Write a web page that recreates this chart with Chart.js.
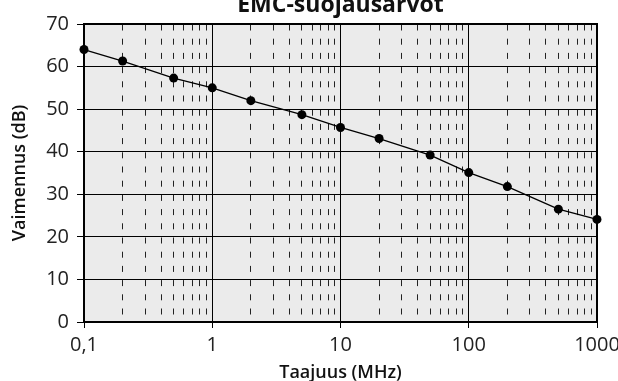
<!DOCTYPE html>
<html>
<head>
<meta charset="utf-8">
<script src="https://cdn.jsdelivr.net/npm/chart.js@4"></script>
<style>
  html, body { margin: 0; padding: 0; background: #fff; }
  #wrap { width: 618px; height: 381px; }
</style>
</head>
<body>
<div id="wrap"><canvas id="myChart" width="618" height="381"></canvas></div>
<script>
// EMC shielding attenuation vs frequency
const freqMHz = [0.1, 0.2, 0.5, 1, 2, 5, 10, 20, 50, 100, 200, 500, 1000]
const attenuationDb = [64, 61.3, 57.3, 55, 52, 48.7, 45.7, 43.1, 39.2, 35.1, 31.8, 26.5, 24.1]

const xTickValues = [0.1, 1, 10, 100, 1000]
const xTickLabels = ['0,1', '1', '10', '100', '1000']
const yMin = 0
const yMax = 70
const yStep = 10

// dashed helper lines at 2..9 within every decade
const xMinorValues = []
for (let d = 0; d < xTickValues.length - 1; d++) {
    for (let m = 2; m <= 9; m++) {
        xMinorValues.push(+(xTickValues[d] * m).toPrecision(3))
    }
}

const font = 'Open Sans'

// light grey fill behind the plot area
const plotBackground = {
    id: 'plotBackground',
    beforeDraw(chart) {
        const { ctx, chartArea } = chart
        ctx.save()
        ctx.fillStyle = '#ebebeb'
        ctx.fillRect(chartArea.left, chartArea.top, chartArea.width, chartArea.height)
        ctx.restore()
    }
}

var ctx = document.getElementById('myChart').getContext('2d');
var chart = new Chart(ctx, {
    type: 'line',
    data: {
        datasets: [{
            label: 'Vaimennus',
            data: freqMHz.map((f, i) => ({ x: f, y: attenuationDb[i] })),
            borderColor: '#000',
            backgroundColor: '#000',
            borderWidth: 1.3,
            pointRadius: 4.5,
            pointHoverRadius: 4.5,
            pointBackgroundColor: '#000',
            pointBorderWidth: 0,
            tension: 0,
            clip: false
        }]
    },
    options: {
        responsive: false,
        animation: false,
        events: [],
        layout: { padding: 0 },
        plugins: {
            legend: { display: false },
            tooltip: { enabled: false },
            title: {
                display: true,
                text: 'EMC-suojausarvot',
                fullSize: false,
                color: '#111',
                font: { family: font, size: 23, weight: 'bold', lineHeight: 0.5 },
                padding: { top: 0, bottom: 12.5 }
            }
        },
        scales: {
            x: {
                type: 'logarithmic',
                position: 'bottom',
                min: 0.1,
                max: 1000,
                afterBuildTicks: scale => { scale.ticks = xTickValues.map(v => ({ value: v })) },
                afterFit: scale => {
                    scale.height = 59
                    scale.paddingRight = 21
                },
                ticks: {
                    autoSkip: false,
                    maxRotation: 0,
                    padding: 5,
                    color: '#222',
                    font: { family: font, size: 20 },
                    callback: (v, i) => xTickLabels[i]
                },
                grid: { color: '#000', lineWidth: 1, tickLength: 6, tickColor: '#000' },
                border: { display: true, color: '#000', width: 2 },
                title: {
                    display: true,
                    text: 'Taajuus (MHz)',
                    color: '#111',
                    font: { family: font, size: 18, weight: '600', lineHeight: 0.9 },
                    padding: 0
                }
            },
            xMinor: {
                type: 'logarithmic',
                position: 'top',
                min: 0.1,
                max: 1000,
                afterBuildTicks: scale => { scale.ticks = xMinorValues.map(v => ({ value: v })) },
                afterFit: scale => { scale.height = 0 },
                ticks: { display: false },
                grid: { color: '#222', lineWidth: 1, drawTicks: false },
                border: { display: true, color: '#000', width: 1.5, dash: [6, 8.2] }
            },
            y: {
                type: 'linear',
                min: yMin,
                max: yMax,
                afterFit: scale => { scale.width = 84 },
                ticks: {
                    stepSize: yStep,
                    padding: 8,
                    color: '#222',
                    font: { family: font, size: 20 }
                },
                grid: { color: '#000', lineWidth: 1, tickLength: 7, tickColor: '#000' },
                border: { display: true, color: '#000', width: 2 },
                title: {
                    display: true,
                    text: 'Vaimennus (dB)',
                    color: '#111',
                    font: { family: font, size: 18, weight: '600', lineHeight: 1.2 },
                    padding: { top: 9, bottom: 0 }
                }
            },
            yRight: {
                type: 'linear',
                position: 'right',
                min: yMin,
                max: yMax,
                ticks: { display: false },
                grid: { display: false },
                border: { display: true, color: '#000', width: 2 }
            }
        }
    },
    plugins: [plotBackground]
});
</script>
</body>
</html>
